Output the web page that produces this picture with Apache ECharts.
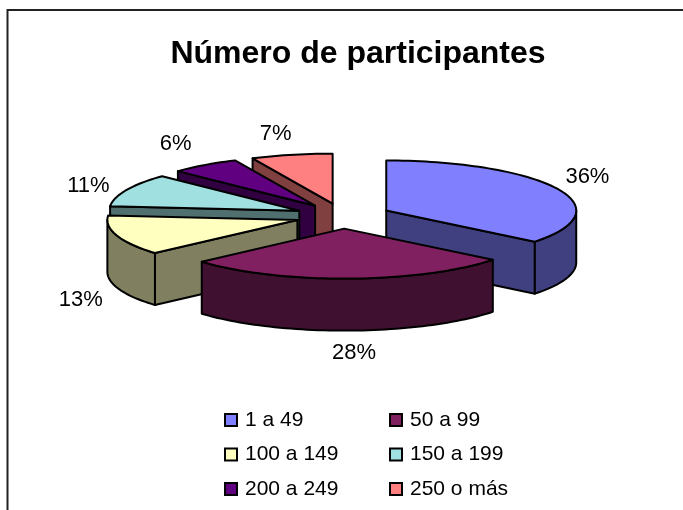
<!DOCTYPE html>
<html>
<head>
<meta charset="utf-8">
<style>
html, body { margin: 0; padding: 0; background: #fff; }
#main { width: 683px; height: 510px; }
</style>
<script src="https://cdn.jsdelivr.net/npm/echarts@6/dist/echarts.min.js"></script>
</head>
<body>
<div id="main"></div>
<script>
var categories = ['1 a 49', '50 a 99', '100 a 149', '150 a 199', '200 a 249', '250 o más'];
var shares = [35.6, 27.7, 12.9, 10.7, 5.9, 6.9];
var topColors = ['#8080FF', '#802060', '#FFFFC0', '#A0E0E0', '#600080', '#FF8080'];
var sideColors = ['#404080', '#401030', '#808060', '#507070', '#300040', '#804040'];
// painted from the back of the pie to the front
var paintOrder = [5, 4, 3, 2, 0, 1];

var total = shares.reduce(function (a, b) { return a + b; }, 0);
var cx = 343, cy = 216, rx = 190, ry = 50, explode = 48, depth = 52;
var fontFamily = '"Liberation Sans", Arial, sans-serif';

var dom = document.getElementById('main');
var chart = echarts.init(dom, null, { renderer: 'canvas' });

function arcPoints(x0, y0, from, to) {
    var pts = [];
    var n = Math.max(2, Math.ceil((to - from) / 0.03));
    for (var i = 0; i <= n; i++) {
        var t = from + (to - from) * i / n;
        pts.push([x0 + rx * Math.sin(t), y0 - ry * Math.cos(t)]);
    }
    return pts;
}

function poly(points, fill, z) {
    return {
        type: 'polygon',
        z2: z,
        shape: { points: points },
        style: { fill: fill, stroke: '#000', lineWidth: 2, lineJoin: 'round' }
    };
}

function renderSlice(params, api) {
    var idx = params.dataIndex;
    var before = 0;
    for (var i = 0; i < idx; i++) before += shares[i];
    var a = before / total * Math.PI * 2;
    var b = (before + api.value(0)) / total * Math.PI * 2;
    var mid = (a + b) / 2;
    var x0 = cx + explode * Math.sin(mid);
    var y0 = cy - explode * (ry / rx) * Math.cos(mid);
    var z = paintOrder.indexOf(idx) * 10;
    var side = sideColors[idx];
    var down = function (p) { return [p[0], p[1] + depth]; };
    var children = [];

    // radial walls facing the viewer
    [[a, Math.sin(a) < -0.001], [b, Math.sin(b) > 0.001]].forEach(function (w) {
        if (!w[1]) return;
        var p = [x0 + rx * Math.sin(w[0]), y0 - ry * Math.cos(w[0])];
        children.push(poly([[x0, y0], p, down(p), [x0, y0 + depth]], side, z));
    });

    // outer wall, only the front half of the rim
    var from = Math.max(a, Math.PI / 2), to = Math.min(b, Math.PI * 1.5);
    if (to > from) {
        var rim = arcPoints(x0, y0, from, to);
        children.push(poly(rim.concat(rim.map(down).reverse()), side, z + 1));
    }

    // top face
    children.push(poly([[x0, y0]].concat(arcPoints(x0, y0, a, b)), topColors[idx], z + 2));
    return { type: 'group', children: children };
}

// nudges from the rim point at the middle of each slice
var labelOffset = [[30, -12], [5, 22], [-36, 12], [-38, -4], [-29, -21], [-16, -21]];

function renderLabel(params, api) {
    var idx = params.dataIndex;
    var before = 0;
    for (var i = 0; i < idx; i++) before += shares[i];
    var mid = (before + api.value(0) / 2) / total * Math.PI * 2;
    var x0 = cx + explode * Math.sin(mid);
    var y0 = cy - explode * (ry / rx) * Math.cos(mid);
    var lx = x0 + rx * Math.sin(mid) + labelOffset[idx][0];
    var ly = y0 - ry * Math.cos(mid) + labelOffset[idx][1] + (Math.cos(mid) < 0 ? depth : 0);
    return {
        type: 'text',
        z2: 100,
        style: {
            x: lx, y: ly,
            text: Math.round(api.value(0) / total * 100) + '%',
            fill: '#000',
            font: '22px ' + fontFamily,
            textAlign: 'center',
            textVerticalAlign: 'middle'
        }
    };
}

function legendColumn(names, left) {
    return {
        data: names,
        orient: 'vertical',
        left: left,
        top: 408,
        height: 100,
        padding: 0,
        itemWidth: 12,
        itemHeight: 12,
        itemGap: 10.5,
        icon: 'rect',
        textStyle: { fontFamily: fontFamily, fontSize: 21, lineHeight: 24, color: '#000', padding: [0, 0, 0, 3] },
        itemStyle: { borderColor: '#000', borderWidth: 2 },
        selectedMode: false
    };
}

var option = {
    animation: false,
    backgroundColor: '#fff',
    title: {
        text: 'Número de participantes',
        left: 353,
        top: 33,
        textAlign: 'center',
        textStyle: { fontFamily: fontFamily, fontSize: 32, fontWeight: 'bold', color: '#000' }
    },
    legend: [
        legendColumn([categories[0], categories[2], categories[4]], 224),
        legendColumn([categories[1], categories[3], categories[5]], 389)
    ],
    graphic: [{
        type: 'polyline',
        shape: { points: [[7.5, 510], [7.5, 10], [683, 10]] },
        style: { fill: null, stroke: '#222', lineWidth: 2 }
    }],
    series: categories.map(function (name, i) {
        return {
            name: name,
            type: 'custom',
            coordinateSystem: 'none',
            itemStyle: { color: topColors[i] },
            renderItem: function () { return null; },
            data: []
        };
    }).concat([{
        type: 'custom',
        coordinateSystem: 'none',
        silent: true,
        renderItem: renderSlice,
        data: shares.map(function (v) { return [v]; })
    }, {
        type: 'custom',
        coordinateSystem: 'none',
        silent: true,
        renderItem: renderLabel,
        z: 5,
        data: shares.map(function (v) { return [v]; })
    }])
};

chart.setOption(option);
window.addEventListener('resize', function () { chart.resize(); });
</script>
</body>
</html>
